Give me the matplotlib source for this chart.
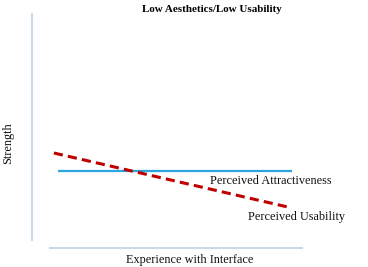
import matplotlib
matplotlib.use("Agg")
import matplotlib.pyplot as plt
from matplotlib.lines import Line2D

# Data (arbitrary units)
title = "Low Aesthetics/Low Usability"
x_label = "Experience with Interface"
y_label = "Strength"
attr_x = [0.96, 9.63]
attr_y = [3.29, 3.29]
usab_x = [0.81, 9.48]
usab_y = [4.06, 1.75]
attr_label = "Perceived Attractiveness"
usab_label = "Perceived Usability"
attr_label_pos = (6.59, 2.86)
usab_label_pos = (8.0, 1.32)

W, H = 368, 267
fig = plt.figure(figsize=(W / 100, H / 100), dpi=100)
font = "Liberation Serif"

# axes region in pixels: x 32..302, y 14..248 (top-origin)
ax = fig.add_axes([32 / W, (H - 248) / H, 270 / W, 234 / H])
ax.set_xlim(0, 10)
ax.set_ylim(0, 10)
ax.axis("off")

ax.plot(attr_x, attr_y, color="#2aa7df", lw=1.6, solid_capstyle="butt")
ax.plot(usab_x, usab_y, color="#c00000", lw=2.2, dashes=(3, 1.7))

ax.text(*attr_label_pos, attr_label, family=font, fontsize=8.8,
        va="center", ha="left", color="#111111")
ax.text(*usab_label_pos, usab_label, family=font, fontsize=8.8,
        va="center", ha="left", color="#111111")

# custom axis lines
axis_color = "#c9d9ea"
fig.add_artist(Line2D([32 / W, 32 / W], [(H - 240) / H, (H - 14) / H],
                      color=axis_color, lw=1.5, transform=fig.transFigure))
fig.add_artist(Line2D([50 / W, 302 / W], [(H - 248) / H, (H - 248) / H],
                      color=axis_color, lw=1.5, transform=fig.transFigure))

fig.text(212 / W, (H - 9) / H, title, family=font, fontsize=7.9,
         fontweight="bold", ha="center", va="center")
fig.text(8 / W, (H - 143) / H, y_label, family=font, fontsize=8.8,
         rotation=90, ha="center", va="center", color="#111111")
fig.text(190 / W, (H - 260) / H, x_label, family=font, fontsize=8.8,
         ha="center", va="center", color="#111111")

fig.savefig("out.png", dpi=100)
